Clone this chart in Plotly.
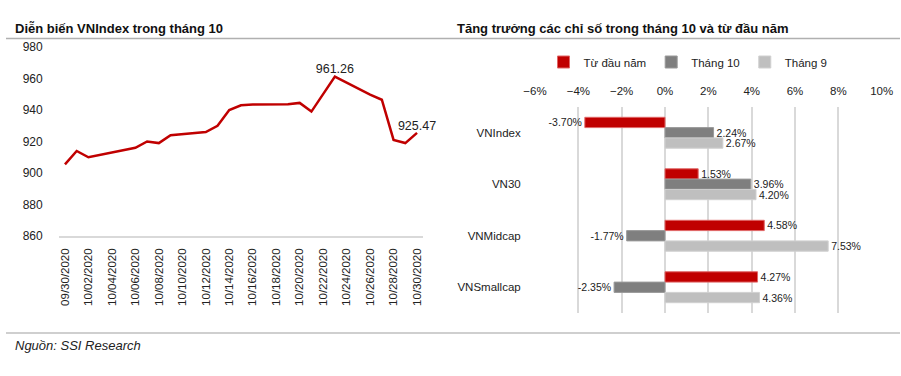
import plotly.graph_objects as go

W, H = 901, 376

# ---- Left chart data: VNIndex in October 2020 ----
dates = ["2020-09-30", "2020-10-01", "2020-10-02", "2020-10-05", "2020-10-06",
         "2020-10-07", "2020-10-08", "2020-10-09", "2020-10-12", "2020-10-13",
         "2020-10-14", "2020-10-15", "2020-10-16", "2020-10-19", "2020-10-20",
         "2020-10-21", "2020-10-22", "2020-10-23", "2020-10-26", "2020-10-27",
         "2020-10-28", "2020-10-29", "2020-10-30"]
vnindex = [905.5, 914.0, 910.0, 914.5, 916.0,
           920.0, 919.0, 924.0, 926.0, 930.0,
           940.0, 943.0, 943.5, 943.7, 944.5,
           939.0, 950.0, 961.26, 949.7, 946.5,
           921.0, 919.0, 925.47]
labeled_dates = ["2020-10-23", "2020-10-30"]

# ---- Right chart data: index growth ----
categories = ["VNIndex", "VN30", "VNMidcap", "VNSmallcap"]
series_names = ["Từ đầu năm", "Tháng 10", "Tháng 9"]
ytd = [-3.70, 1.53, 4.58, 4.27]
oct_ = [2.24, 3.96, -1.77, -2.35]
sep_ = [2.67, 4.20, 7.53, 4.36]
series_colors = ["#C00000", "#7F7F7F", "#BFBFBF"]
series_edges = ["#E06666", "#9A9A9A", "#D0D0D0"]

FONT = "Liberation Sans Narrow, Arial Narrow, Liberation Sans, Arial, sans-serif"

def px_x(p):
    return p / W

def px_y(p):
    return 1 - p / H

fig = go.Figure()

line_text = [f"{v:.2f}" if d in labeled_dates else "" for d, v in zip(dates, vnindex)]
fig.add_trace(go.Scatter(
    x=dates, y=vnindex, mode="lines+text", text=line_text,
    textposition="top center", textfont=dict(size=12.5, color="#222222", family=FONT),
    line=dict(color="#C00000", width=2.5), showlegend=False,
    xaxis="x", yaxis="y", cliponaxis=False, hoverinfo="skip",
))

for name, vals, col, edge in zip(series_names, [ytd, oct_, sep_], series_colors, series_edges):
    fig.add_trace(go.Bar(
        y=categories, x=vals, orientation="h", name=name,
        marker=dict(color=col, line=dict(color=edge, width=1)),
        text=[f"{v:.2f}%" for v in vals], textposition="outside",
        texttemplate="%{text}", constraintext="none",
        textfont=dict(size=10.5, color="#222222", family=FONT),
        xaxis="x2", yaxis="y2", cliponaxis=False, hoverinfo="skip",
    ))

fig.update_layout(
    width=W, height=H,
    margin=dict(l=0, r=0, t=0, b=0, pad=0, autoexpand=False),
    paper_bgcolor="white", plot_bgcolor="white",
    font=dict(family=FONT, size=12, color="#222222"),
    barmode="group", bargap=0.4, bargroupgap=0.0,
    xaxis=dict(
        domain=[px_x(59.1), px_x(422.9)], type="date",
        range=["2020-09-29 12:00", "2020-10-30 12:00"],
        tick0="2020-09-30", dtick=2 * 86400000, tickformat="%m/%d/%Y",
        tickangle=-90, showgrid=False, zeroline=False,
        showline=True, linecolor="#D9D9D9", linewidth=1.5,
        ticks="outside", ticklen=6, tickcolor="rgba(0,0,0,0)",
        tickfont=dict(size=11.5, family=FONT, color="#222222"),
        anchor="y", automargin=False,
    ),
    yaxis=dict(
        domain=[px_y(236), px_y(47)], range=[860, 980], dtick=20,
        showgrid=False, zeroline=False, showline=False,
        ticks="outside", ticklen=13, tickcolor="rgba(0,0,0,0)",
        tickfont=dict(size=12, family=FONT, color="#222222"),
        anchor="x", automargin=False,
    ),
    xaxis2=dict(
        domain=[px_x(535), px_x(881.7)], range=[-6, 10], dtick=2,
        ticksuffix="%", side="top", showgrid=True, gridcolor="#D9D9D9",
        gridwidth=1.5, zeroline=False, showline=False,
        ticks="outside", ticklen=6, tickcolor="rgba(0,0,0,0)",
        tickfont=dict(size=11.5, family=FONT, color="#222222"),
        anchor="y2", automargin=False,
    ),
    yaxis2=dict(
        domain=[px_y(313), px_y(107)], autorange="reversed",
        showgrid=False, zeroline=False, showline=False,
        ticks="outside", ticklen=11, tickcolor="rgba(0,0,0,0)",
        tickfont=dict(size=11.5, family=FONT, color="#222222"),
        anchor="x2", automargin=False,
    ),
    legend=dict(
        orientation="h", x=px_x(688), xanchor="center", y=px_y(62), yanchor="middle",
        font=dict(size=11.5, family=FONT, color="#222222"),
        itemwidth=30, tracegroupgap=0, bgcolor="rgba(0,0,0,0)",
    ),
    showlegend=True,
)

fig.add_shape(type="line", xref="paper", yref="paper", layer="above",
              x0=px_x(6), x1=px_x(900), y0=px_y(38.5), y1=px_y(38.5),
              line=dict(color="#B0B0B0", width=1.5))
fig.add_shape(type="line", xref="paper", yref="paper", layer="above",
              x0=px_x(6), x1=px_x(900), y0=px_y(333), y1=px_y(333),
              line=dict(color="#BFBFBF", width=1.5))

fig.add_annotation(text="<b>Diễn biến VNIndex trong tháng 10</b>", xref="paper", yref="paper",
                   x=px_x(15), y=px_y(36), xanchor="left", yanchor="bottom", showarrow=False,
                   borderpad=0, borderwidth=0,
                   font=dict(size=13, family=FONT, color="#111111"))
fig.add_annotation(text="<b>Tăng trưởng các chỉ số trong tháng 10 và từ đầu năm</b>", xref="paper", yref="paper",
                   x=px_x(457), y=px_y(36), xanchor="left", yanchor="bottom", showarrow=False,
                   borderpad=0, borderwidth=0,
                   font=dict(size=13, family=FONT, color="#111111"))
fig.add_annotation(text="<i>Nguồn: SSI Research</i>", xref="paper", yref="paper",
                   x=px_x(13), y=px_y(345), xanchor="left", yanchor="middle", showarrow=False,
                   font=dict(size=13, family=FONT, color="#222222"))

fig.write_html("out.html", config={"displayModeBar": False},
               post_script="document.body.style.margin='0';document.body.style.padding='0';")
